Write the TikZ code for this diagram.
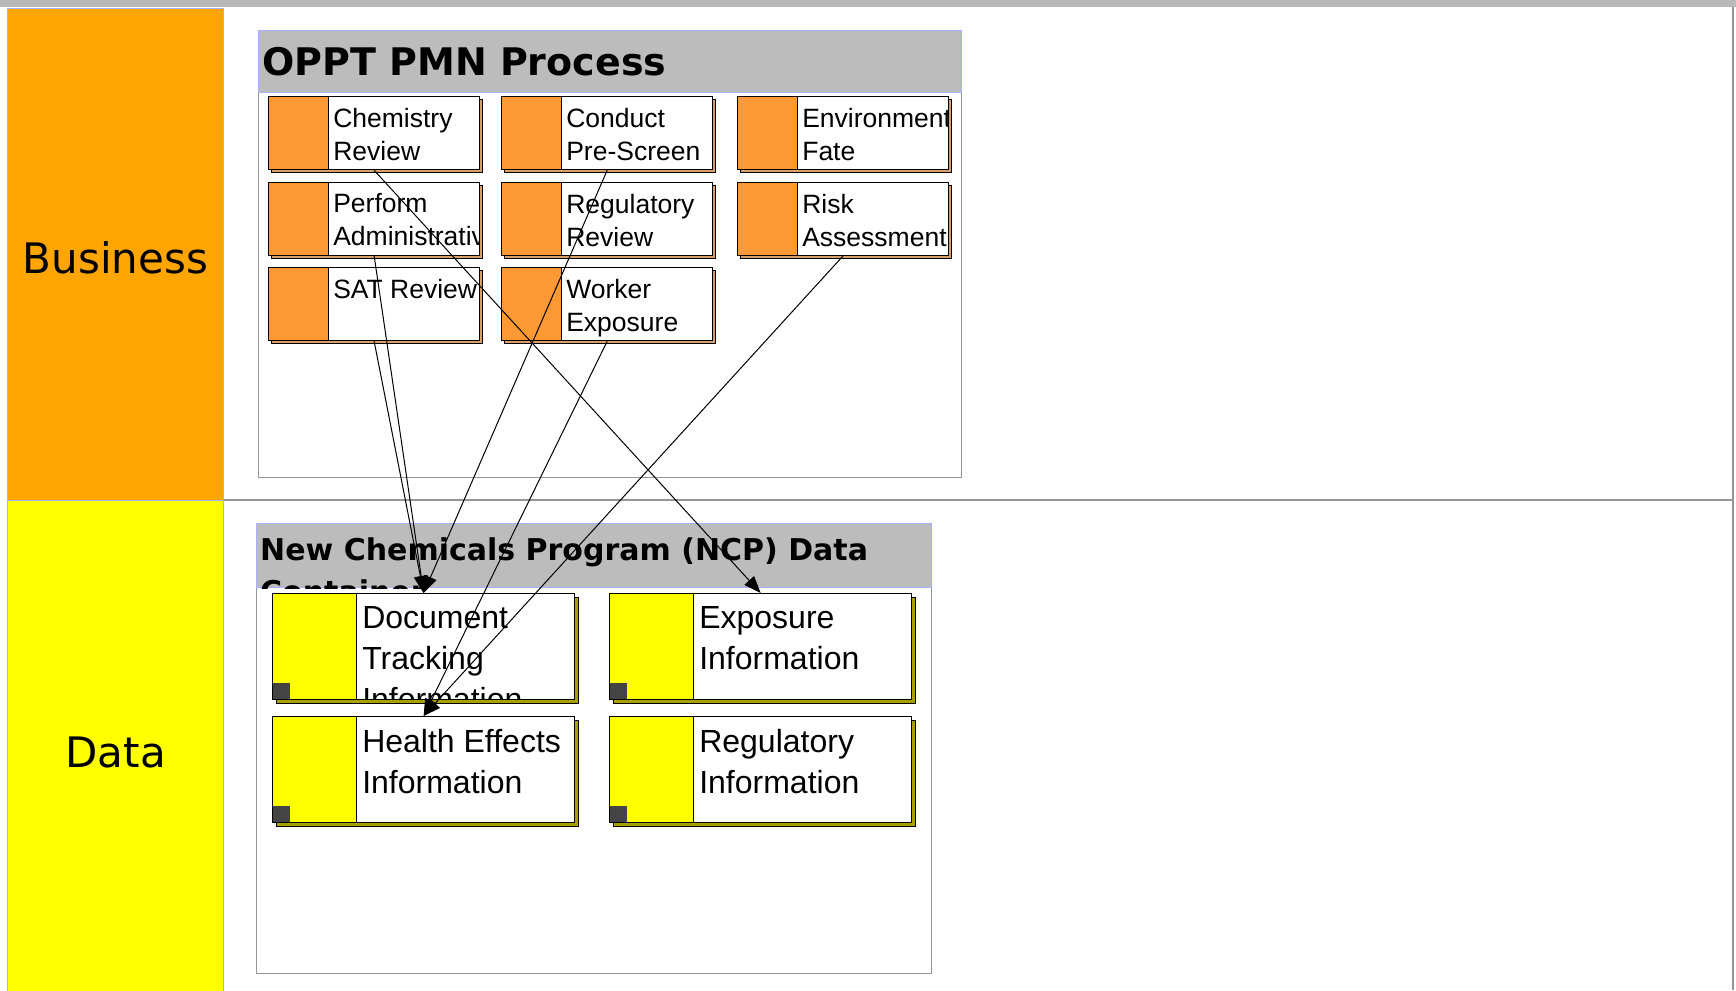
\documentclass[tikz,border=0pt]{standalone}
\usepackage{fontspec}
\setmainfont{Liberation Sans}
\newfontfamily\lanefont{DejaVu Sans}
\usetikzlibrary{arrows.meta,shadows}
\definecolor{bandgray}{RGB}{185,185,185}
\definecolor{laneblue}{RGB}{168,176,255}
\definecolor{lanegray}{RGB}{150,150,150}
\definecolor{bizorange}{RGB}{255,165,0}
\definecolor{datayellow}{RGB}{255,255,0}
\definecolor{headgray}{RGB}{188,188,188}
\definecolor{taskorange}{RGB}{255,153,51}
\definecolor{taskshadow}{RGB}{214,160,104}
\definecolor{entshadow}{RGB}{168,160,0}
\definecolor{markgray}{RGB}{68,68,68}

\begin{document}
\begin{tikzpicture}[
  x=1pt,y=-1pt,
  flow/.style={-{Triangle[length=17pt,width=13pt]},draw=black,line width=1pt},
  lanehead/.style={draw=laneblue,line width=1.2pt,anchor=north west,inner sep=0pt,
                   minimum width=216pt,font=\lanefont\fontsize{42}{50}\selectfont},
  pool/.style={draw=lanegray,line width=1.2pt,fill=white,anchor=north west,inner sep=0pt},
  poolhead/.style={draw=laneblue,line width=1.2pt,fill=headgray,anchor=north west,inner sep=0pt},
  pooltitle/.style={anchor=north west,inner sep=0pt,align=left},
  boxtext/.style={anchor=north west,inner sep=0pt,align=left,minimum width=0pt,minimum height=0pt,
                  draw=none,fill=none},
  task/.style 2 args={draw=black,line width=1.3pt,fill=white,anchor=north west,inner sep=0pt,
                minimum width=211pt,minimum height=73pt,
                drop shadow={shadow xshift=3pt,shadow yshift=-3pt,fill=taskshadow,draw=black,line width=0.8pt,opacity=1},
                path picture={
                  \fill[taskorange] (path picture bounding box.north west) rectangle ([xshift=60pt]path picture bounding box.south west);
                  \draw[line width=1.3pt] ([xshift=60pt]path picture bounding box.north west) -- ([xshift=60pt]path picture bounding box.south west);
                  \node[boxtext,font=\fontsize{26.5}{33}\selectfont] (#1)
                    at ([shift={(64,11)}]path picture bounding box.north west) {#2};}},
  entity/.style 2 args={draw=black,line width=1.3pt,fill=white,anchor=north west,inner sep=0pt,
                minimum width=302pt,minimum height=106pt,
                drop shadow={shadow xshift=4pt,shadow yshift=-4pt,fill=entshadow,draw=black,line width=0.8pt,opacity=1},
                path picture={
                  \fill[datayellow] (path picture bounding box.north west) rectangle ([xshift=84pt]path picture bounding box.south west);
                  \draw[line width=1.3pt] ([xshift=84pt]path picture bounding box.north west) -- ([xshift=84pt]path picture bounding box.south west);
                  \fill[markgray] (path picture bounding box.south west) rectangle ++(17,-17);
                  \node[boxtext,font=\fontsize{32}{41}\selectfont] (#1)
                    at ([shift={(89,12)}]path picture bounding box.north west) {#2};}}
]
\useasboundingbox (0,0) rectangle (1736,990);
\fill[white] (0,0) rectangle (1736,990);
% ---------- lanes
\fill[bandgray] (0,0) rectangle (1736,7.5);
\draw[lanegray,line width=2pt] (223,500) -- (1733,500);
\draw[lanegray,line width=2pt] (1733,7.5) -- (1733,990);
\node[lanehead,fill=bizorange,minimum height=498pt] (bizlane) at (7,8) {Business};
\node[lanehead,fill=datayellow,minimum height=504pt] (datalane) at (7,500) {Data};
% ---------- process pool
\node[pool,minimum width=703pt,minimum height=447pt] (opptPool) at (258,30) {};
\node[poolhead,minimum width=703pt,minimum height=62pt] (opptHead) at (258,30) {};
\node[pooltitle,font=\lanefont\bfseries\fontsize{38}{46}\selectfont] (opptTitle)
  at ([shift={(4,17)}]opptHead.north west) {OPPT PMN Process};
\node[task={chemTxt}{Chemistry\\Review}] (chem) at (268,96) {};
\node[task={condTxt}{Conduct\\Pre-Screen}] (cond) at (501,96) {};
\node[task={envTxt}{Environmental\\Fate}] (env) at (737,96) {};
\node[task={adminTxt}{Perform\\Administrative}] (admin) at (268,181.5) {};
\node[task={regTxt}{Regulatory\\Review}] (reg) at (501,181.5) {};
\node[task={riskTxt}{Risk\\Assessment}] (risk) at (737,181.5) {};
\node[task={satTxt}{SAT Review}] (sat) at (268,267) {};
\node[task={workTxt}{Worker\\Exposure}] (work) at (501,267) {};
% ---------- data pool
\node[pool,minimum width=675pt,minimum height=450pt] (ncpPool) at (256,523) {};
\node[poolhead,minimum width=675pt,minimum height=64pt] (ncpHead) at (256,523) {};
\begin{scope}
  \clip (ncpHead.north west) rectangle (ncpHead.south east);
  \node[pooltitle,font=\lanefont\bfseries\fontsize{30}{42}\selectfont] (ncpTitle)
    at ([shift={(4,14)}]ncpHead.north west) {New Chemicals Program (NCP) Data\\Container};
\end{scope}
\node[entity={docTxt}{Document\\Tracking\\Information}] (doc) at (272,593) {};
\node[entity={expoTxt}{Exposure\\Information}] (expo) at (609,593) {};
\node[entity={healthTxt}{Health Effects\\Information}] (health) at (272,716) {};
\node[entity={regInfoTxt}{Regulatory\\Information}] (regInfo) at (609,716) {};
% ---------- connectors
\draw[flow] (chem.south) -- (expo.north);
\draw[flow] (admin.south) -- (doc.north);
\draw[flow] (sat.south) -- (doc.north);
\draw[flow] (cond.south) -- (doc.north);
\draw[flow] (work.south) -- (health.north);
\draw[flow] (risk.south) -- (health.north);
\end{tikzpicture}
\end{document}
